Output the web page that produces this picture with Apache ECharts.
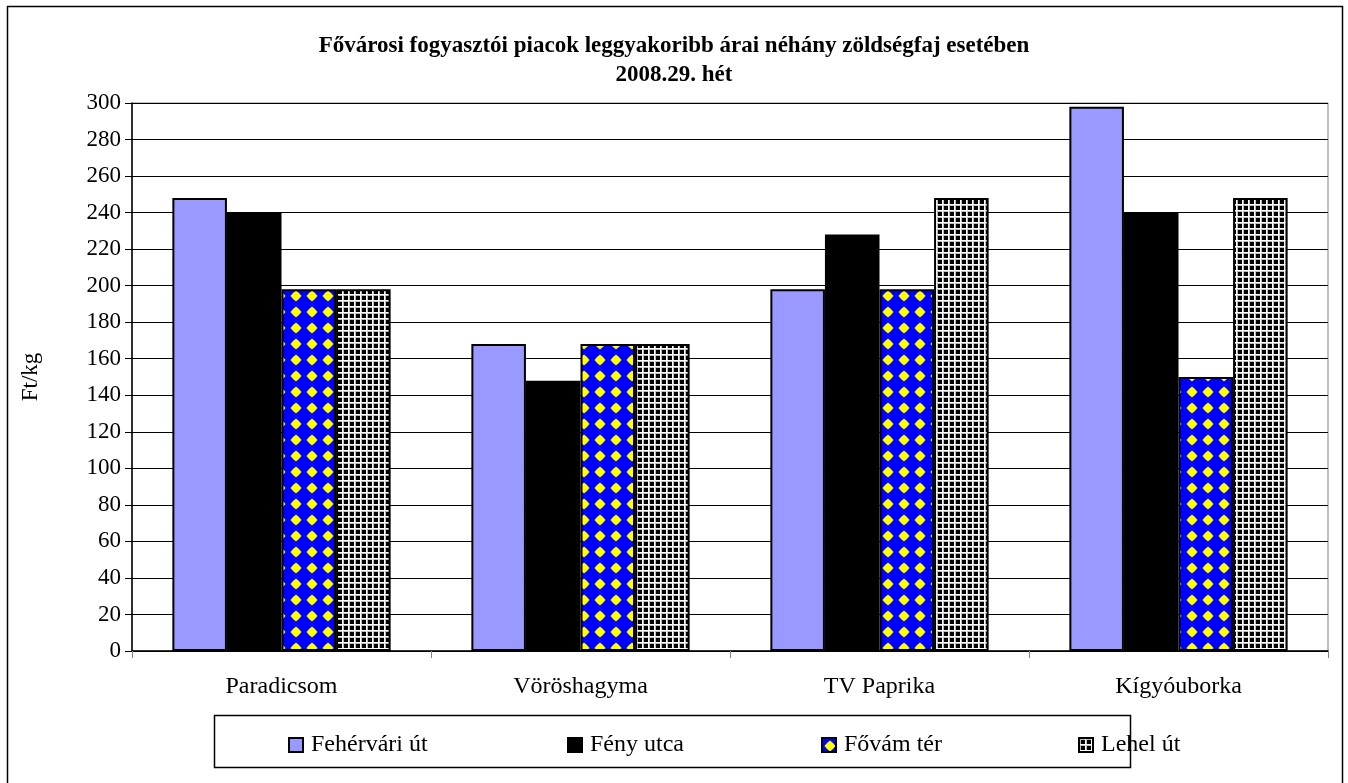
<!DOCTYPE html>
<html>
<head>
<meta charset="utf-8">
<title>Fővárosi piacok</title>
<script src="https://cdn.jsdelivr.net/npm/echarts@6/dist/echarts.min.js"></script>
<style>
  html, body { margin: 0; padding: 0; background: #fff; }
  #chart { width: 1348px; height: 783px; }
</style>
</head>
<body>
<div id="chart"></div>
<script>
    // adatok
    var categories = ['Paradicsom', 'Vöröshagyma', 'TV Paprika', 'Kígyóuborka'];
    var seriesNames = ['Fehérvári út', 'Fény utca', 'Fővám tér', 'Lehel út'];
    var fehervari = [248, 168, 198, 298];
    var feny = [240, 148, 228, 240];
    var fovam = [198, 168, 198, 150];
    var lehel = [198, 168, 248, 248];
    var yTicks = [0, 20, 40, 60, 80, 100, 120, 140, 160, 180, 200, 220, 240, 260, 280, 300];

    var font = '"Liberation Serif", "Times New Roman", serif';

    // kék-sárga rombusz minta
    function diamondPattern() {
        var c = document.createElement('canvas');
        c.width = 16; c.height = 16;
        var ctx = c.getContext('2d');
        ctx.fillStyle = '#0000ff';
        ctx.fillRect(0, 0, 16, 16);
        ctx.fillStyle = '#ffff00';
        ctx.beginPath();
        ctx.moveTo(8, 2.5);
        ctx.quadraticCurveTo(11.2, 4.8, 13.5, 8);
        ctx.quadraticCurveTo(11.2, 11.2, 8, 13.5);
        ctx.quadraticCurveTo(4.8, 11.2, 2.5, 8);
        ctx.quadraticCurveTo(4.8, 4.8, 8, 2.5);
        ctx.closePath();
        ctx.fill();
        return c;
    }
    // fekete-fehér rács minta
    function gridPattern() {
        var c = document.createElement('canvas');
        c.width = 6; c.height = 6;
        var ctx = c.getContext('2d');
        ctx.fillStyle = '#000000';
        ctx.fillRect(0, 0, 6, 6);
        ctx.fillStyle = '#bbbbbb';
        ctx.fillRect(0, 0, 2, 6);
        ctx.fillRect(0, 0, 6, 2);
        ctx.fillStyle = '#ffffff';
        ctx.fillRect(0, 0, 1, 6);
        ctx.fillRect(0, 0, 6, 1);
        return c;
    }

    var fills = [
        '#9999ff',
        '#000000',
        { image: diamondPattern(), repeat: 'repeat' },
        { image: gridPattern(), repeat: 'repeat' }
    ];
    var values = [fehervari, feny, fovam, lehel];
    var legendLeft = [283, 562, 816, 1073];

    var chart = echarts.init(document.getElementById('chart'));

    var series = [];
    var legends = [];
    for (var i = 0; i < seriesNames.length; i++) {
        series.push({
            name: seriesNames[i],
            type: 'bar',
            data: values[i],
            barGap: '0%',
            barCategoryGap: '27%',
            itemStyle: {
                color: fills[i],
                borderColor: '#000',
                borderWidth: 2
            }
        });
        legends.push({
            data: [seriesNames[i]],
            left: legendLeft[i],
            top: 728,
            icon: 'rect',
            itemWidth: 14,
            itemHeight: 14,
            selectedMode: false,
            textStyle: { fontFamily: font, fontSize: 24, color: '#000', padding: [0, 0, 0, 3] }
        });
    }

    var option = {
        backgroundColor: '#fff',
        animation: false,
        title: {
            text: 'Fővárosi fogyasztói piacok leggyakoribb árai néhány zöldségfaj esetében\n2008.29. hét',
            left: 'center',
            top: 27,
            textStyle: { fontFamily: font, fontSize: 23, fontWeight: 'bold', color: '#000', lineHeight: 29 }
        },
        legend: legends,
        grid: {
            left: 132,
            right: 20,
            top: 103,
            bottom: 132,
            show: true,
            borderColor: '#808080',
            borderWidth: 1
        },
        xAxis: {
            type: 'category',
            data: categories,
            axisLine: { lineStyle: { color: '#000', width: 1.5 } },
            axisTick: { show: true, length: 7, lineStyle: { color: '#808080' } },
            axisLabel: { fontFamily: font, fontSize: 24, color: '#000', margin: 24 }
        },
        yAxis: {
            type: 'value',
            min: yTicks[0],
            max: yTicks[yTicks.length - 1],
            interval: 20,
            name: 'Ft/kg',
            nameLocation: 'middle',
            nameGap: 90,
            nameTextStyle: { fontFamily: font, fontSize: 23, color: '#000' },
            axisLine: { show: true, lineStyle: { color: '#000', width: 1.5 } },
            axisTick: { show: true, length: 7, lineStyle: { color: '#000' } },
            axisLabel: { fontFamily: font, fontSize: 23, color: '#000', margin: 11 },
            splitLine: { lineStyle: { color: '#000', width: 1 } }
        },
        graphic: [
            {
                type: 'rect',
                shape: { x: 7.5, y: 6.5, width: 1335, height: 800 },
                style: { fill: null, stroke: '#000', lineWidth: 1.5 },
                silent: true,
                z: -1
            },
            {
                type: 'rect',
                shape: { x: 214.5, y: 715.5, width: 916, height: 52 },
                style: { fill: null, stroke: '#000', lineWidth: 1.5 },
                silent: true,
                z: -1
            }
        ],
        series: series
    };

    chart.setOption(option);
    window.addEventListener('resize', function () {
        chart.resize();
    });
</script>
</body>
</html>
